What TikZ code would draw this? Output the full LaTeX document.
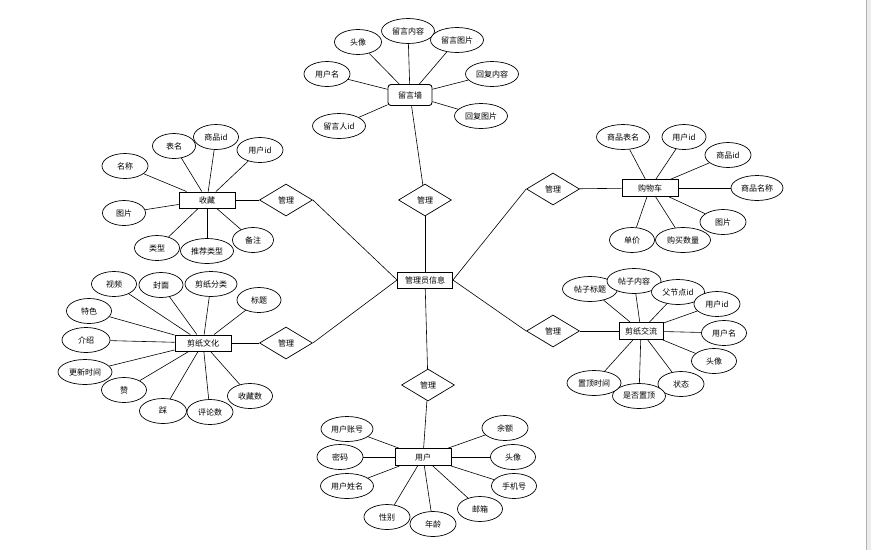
\documentclass[tikz,border=0pt]{standalone}
\usepackage{fontspec}
\setmainfont{Noto Sans CJK SC}
\usepackage{tikz}
\usetikzlibrary{positioning, shapes.geometric}
\newcommand{\erfont}{\fontsize{8}{9}\selectfont}
\tikzset{
  ent/.style={draw, fill=white, line width=0.9pt, inner sep=1pt,
              minimum width=56pt, minimum height=17pt, font=\erfont},
  attr/.style={ellipse, draw, fill=white, line width=0.7pt, inner sep=1pt,
               minimum width=#1, minimum height=25pt, font=\erfont},
  attr/.default=46pt,
  rel/.style={diamond, draw, fill=white, line width=0.7pt, inner sep=0pt,
              minimum width=53pt, minimum height=32pt, font=\erfont},
  lnk/.style={line width=0.6pt},
}

\begin{document}
\begin{tikzpicture}[x=1pt, y=-1pt]
\useasboundingbox (0,0) rectangle (871,550);
% page edge on the right
\fill[gray!15] (866,0) rectangle (871,550);
\draw[gray!60, line width=0.9pt] (866,0) -- (866,550);

% ===================== centre: admin + relations ==================
\node[ent, minimum width=55pt, minimum height=16pt] (admin) at (425,280) {管理员信息};

\node[rel] (relMsg)   at (425,200) {管理};
\node[rel] (relFav)   at (286,200) {管理};
\node[rel] (relArt)   at (286,343) {管理};
\node[rel] (relCart)  at (553,189) {管理};
\node[rel] (relForum) at (553,331) {管理};
\node[rel] (relUser)  at (428,385) {管理};

% entities
\node[ent, rounded corners=3pt, minimum width=44pt, minimum height=21pt]
  (msg) at (410,95) {留言墙};
\node[ent, minimum height=16pt] (fav) at (207,200) {收藏};
\node[ent, minimum height=16pt] (art) at (203,343) {剪纸文化};
\node[ent] (cart) at (650,188) {购物车};
\node[ent, minimum width=44pt] (forum) at (641,331) {剪纸交流};
\node[ent] (user) at (423,457) {用户};

% relation links
\draw[lnk] (msg) -- (relMsg);
\draw[lnk] (relMsg) -- (admin);
\draw[lnk] (fav) -- (relFav);
\draw[lnk] (relFav.east) -- (admin.west);
\draw[lnk] (art) -- (relArt);
\draw[lnk] (relArt.east) -- (admin.west);
\draw[lnk] (relCart.west) -- (admin.east);
\draw[lnk] (relCart) -- (cart);
\draw[lnk] (relForum.west) -- (admin.east);
\draw[lnk] (relForum) -- (forum);
\draw[lnk] (admin) -- (relUser);
\draw[lnk] (relUser) -- (user);

% ===================== attributes ==================
% 留言墙
\foreach \n/\x/\y/\w/\t in {m1/358/42/47pt/头像, m2/408/31/53pt/留言内容,
    m3/457/40/53pt/留言图片, m4/327/74/46pt/用户名, m5/492/74/53pt/回复内容,
    m6/481/116/53pt/回复图片, m7/339/126/53pt/留言人id} {
  \node[attr=\w] (\n) at (\x,\y) {\t};
  \draw[lnk] (\n) -- (msg);
}

% 收藏
\foreach \n/\x/\y/\w/\t in {f1/125/166/46pt/名称, f2/174/146/43pt/表名,
    f3/216/137/45pt/商品id, f4/260/150/46pt/用户id, f5/124/213/43pt/图片,
    f6/157/248/45pt/类型, f7/207/251/53pt/推荐类型, f8/253/240/41pt/备注} {
  \node[attr=\w] (\n) at (\x,\y) {\t};
  \draw[lnk] (\n) -- (fav);
}

% 剪纸文化
\foreach \n/\x/\y/\w/\t in {a1/114/284/45pt/视频, a2/161/285/44pt/封面,
    a3/211/284/52pt/剪纸分类, a4/259/300/44pt/标题, a5/89/311/45pt/特色,
    a6/86/340/48pt/介绍, a7/85/372/54pt/更新时间, a8/124/390/45pt/赞,
    a9/163/411/47pt/踩, a10/210/412/46pt/评论数, a11/250/396/45pt/收藏数} {
  \node[attr=\w] (\n) at (\x,\y) {\t};
  \draw[lnk] (\n) -- (art);
}

% 购物车
\foreach \n/\x/\y/\w/\t in {c1/623/137/53pt/商品表名, c2/684/137/44pt/用户id,
    c3/728/155/46pt/商品id, c4/757/188/52pt/商品名称, c5/723/222/46pt/图片,
    c6/632/240/45pt/单价, c7/683/240/55pt/购买数量} {
  \node[attr=\w] (\n) at (\x,\y) {\t};
  \draw[lnk] (\n) -- (cart);
}

% 剪纸交流
\foreach \n/\x/\y/\w/\t in {p1/590/289/55pt/帖子标题, p2/634/281/54pt/帖子内容,
    p3/678/292/53pt/父节点id, p4/717/304/46pt/用户id, p5/724/333/45pt/用户名,
    p6/714/361/45pt/头像, p7/681/384/46pt/状态, p8/639/396/53pt/是否置顶,
    p9/594/383/54pt/置顶时间} {
  \node[attr=\w] (\n) at (\x,\y) {\t};
  \draw[lnk] (\n) -- (forum);
}

% 用户
\foreach \n/\x/\y/\w/\t in {u1/347/429/52pt/用户账号, u2/340/457/46pt/密码,
    u3/347/486/53pt/用户姓名, u4/387/517/46pt/性别, u5/433/524/46pt/年龄,
    u6/480/509/45pt/邮箱, u7/514/486/45pt/手机号, u8/513/457/45pt/头像,
    u9/505/428/46pt/余额} {
  \node[attr=\w] (\n) at (\x,\y) {\t};
  \draw[lnk] (\n) -- (user);
}

\end{tikzpicture}
\end{document}
